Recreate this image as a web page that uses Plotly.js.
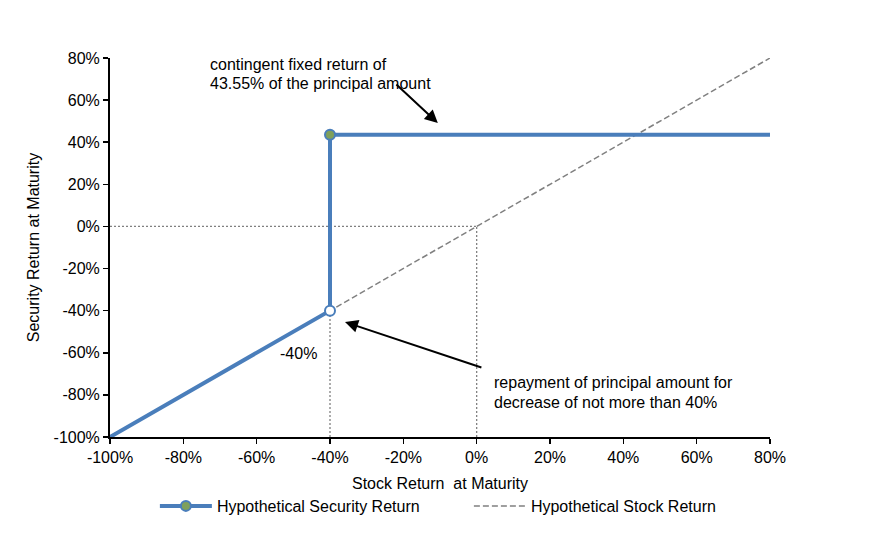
<!DOCTYPE html>
<html>
<head>
<meta charset="utf-8">
<script src="https://cdn.plot.ly/plotly-3.0.1.min.js"></script>
<style>
  html, body { margin: 0; padding: 0; background: #fff; }
  #chart { width: 873px; height: 535px; }
</style>
</head>
<body>
<div id="chart"></div>
<script>
// payoff data (percent)
var securityX = [-100, -40, -40, 80];
var securityY = [-100, -40, 43.55, 43.55];
var stockX = [-100, -40, 0, 40, 80];
var stockY = [-100, -40, 0, 40, 80];
var barrier = -40;
var fixedReturn = 43.55;
var tickVals = [-100, -80, -60, -40, -20, 0, 20, 40, 60, 80];
var tickText = tickVals.map(v => v + '%');

var blue = '#4A7EBB';
var font = 'Liberation Sans, Arial, sans-serif';
var fs = 16;

var data = [
  { // stock return, dashed
    x: stockX, y: stockY, type: 'scatter', mode: 'lines',
    name: 'Hypothetical Stock Return',
    line: {color: '#808080', width: 1.5, dash: '6px,3px'},
    legendrank: 2
  },
  { // security payoff line
    x: securityX, y: securityY, type: 'scatter', mode: 'lines',
    showlegend: false, line: {color: blue, width: 4}
  },
  { // filled point at the fixed return
    x: [barrier], y: [fixedReturn], type: 'scatter', mode: 'lines+markers',
    name: 'Hypothetical Security Return',
    line: {color: blue, width: 4},
    marker: {size: 10, color: '#7FA05C', line: {color: blue, width: 2}},
    legendrank: 1
  },
  { // open point at the barrier
    x: [barrier], y: [barrier], type: 'scatter', mode: 'markers',
    showlegend: false,
    marker: {size: 10, color: '#ffffff', line: {color: blue, width: 2}}
  }
];

var dotted = {color: '#808080', width: 1.3, dash: '2px,2px'};
var shapes = [
  {type: 'line', layer: 'below', xref: 'x', yref: 'y', x0: -100, x1: 0, y0: 0, y1: 0, line: dotted},
  {type: 'line', layer: 'below', xref: 'x', yref: 'y', x0: 0, x1: 0, y0: -100, y1: 0, line: dotted},
  {type: 'line', layer: 'below', xref: 'x', yref: 'y', x0: barrier, x1: barrier, y0: -100, y1: barrier, line: dotted}
];

var annFont = {family: font, size: fs, color: '#000'};
function label(x, y, text, anchor) {
  return {x: x, y: y, xref: 'x', yref: 'y', xanchor: anchor || 'left', yanchor: 'middle',
          showarrow: false, font: annFont, text: text};
}
var annotations = [
  label(-73.2, 76.7, 'contingent fixed return of'),
  label(-73.2, 68.1, '43.55% of the principal amount'),
  label(4.2, -74.3, 'repayment of principal amount for'),
  label(4.2, -83.8, 'decrease of not more than 40%'),
  label(-48.7, -60.5, '-40%', 'center'),
  {x: -10.6, y: 49.1, ax: -22.3, ay: 68.1, xref: 'x', yref: 'y', axref: 'x', ayref: 'y',
   text: '', showarrow: true, arrowhead: 2, arrowsize: 1.3, arrowwidth: 2, arrowcolor: '#000'},
  {x: -35.9, y: -45.4, ax: 1.7, ay: -67.2, xref: 'x', yref: 'y', axref: 'x', ayref: 'y',
   text: '', showarrow: true, arrowhead: 2, arrowsize: 1.3, arrowwidth: 2, arrowcolor: '#000'}
];

var axisCommon = {
  range: [-100, 80], tickvals: tickVals, ticktext: tickText,
  showgrid: false, zeroline: false, showline: true, linecolor: '#000', linewidth: 2,
  ticks: 'outside', ticklen: 5, tickwidth: 1.5, tickcolor: '#000',
  tickfont: {family: font, size: fs, color: '#000'}
};

var layout = {
  width: 873, height: 535,
  margin: {l: 110, r: 103, t: 58, b: 98, autoexpand: false},
  paper_bgcolor: '#fff', plot_bgcolor: '#fff',
  font: {family: font, size: fs, color: '#000'},
  xaxis: Object.assign({}, axisCommon, {
    title: {text: 'Stock Return  at Maturity', font: {family: font, size: fs}, standoff: 13}
  }),
  yaxis: Object.assign({}, axisCommon, {
    title: {text: 'Security Return at Maturity', font: {family: font, size: fs}, standoff: 10}
  }),
  showlegend: true,
  legend: {
    orientation: 'h', x: 0.068, xanchor: 'left', y: -0.182, yanchor: 'middle',
    entrywidth: 247, entrywidthmode: 'pixels', itemwidth: 52,
    font: {family: font, size: fs, color: '#000'}, bgcolor: 'rgba(0,0,0,0)'
  },
  shapes: shapes,
  annotations: annotations
};

Plotly.newPlot('chart', data, layout, {displayModeBar: false, staticPlot: true});
</script>
</body>
</html>
